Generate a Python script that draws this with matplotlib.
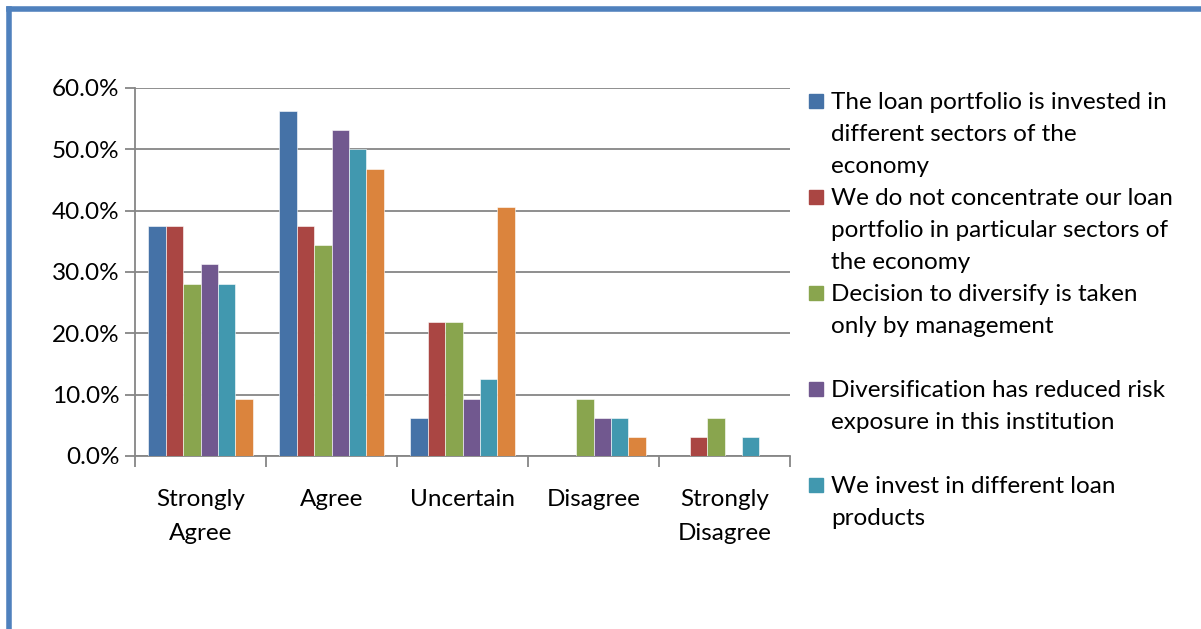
import matplotlib.pyplot as plt
import numpy as np
from matplotlib.lines import Line2D
from matplotlib.patches import Rectangle

# responses out of 32 institutions, as fractions (%)
categories = ["Strongly\nAgree", "Agree", "Uncertain", "Disagree", "Strongly\nDisagree"]
series_names = [
    "The loan portfolio is invested in\ndifferent sectors of the\neconomy",
    "We do not concentrate our loan\nportfolio in particular sectors of\nthe economy",
    "Decision to diversify is taken\nonly by management",
    "Diversification has reduced risk\nexposure in this institution",
    "We invest in different loan\nproducts",
    None,
]
values = [
    [37.5, 56.25, 6.25, 0.0, 0.0],
    [37.5, 37.5, 21.875, 0.0, 3.125],
    [28.125, 34.375, 21.875, 9.375, 6.25],
    [31.25, 53.125, 9.375, 6.25, 0.0],
    [28.125, 50.0, 12.5, 6.25, 3.125],
    [9.375, 46.875, 40.625, 3.125, 0.0],
]
colors = ["#4572A7", "#AA4643", "#89A54E", "#71588F", "#4198AF", "#DB843D"]

plt.rcParams['font.family'] = ['Lato', 'DejaVu Sans']
FS = 17.5
W, H = 1201, 629
fig = plt.figure(figsize=(W / 100, H / 100), dpi=100)

def fx(px):
    return px / W

def fy(py):
    return 1 - py / H

ax = fig.add_axes([fx(135), fy(456), fx(790) - fx(135), fy(88) - fy(456)])

n = len(values)
bw = 0.8 / n
x = np.arange(len(categories))
for i, vals in enumerate(values):
    ax.bar(x - 0.4 + bw * (i + 0.5), vals, width=bw, color=colors[i],
           edgecolor="white", linewidth=0.4, zorder=3)

ax.set_xlim(-0.5, len(categories) - 0.5)
ax.set_ylim(0, 60)
ax.set_yticks(np.arange(0, 61, 10))
ax.set_yticklabels([f"{v:.1f}%" for v in np.arange(0, 61, 10)], fontsize=FS)
ax.yaxis.grid(True, color="#868686", linewidth=1.3, zorder=0)
ax.set_xticks(np.arange(-0.5, len(categories), 1.0))
ax.set_xticklabels([])
ax.set_xticks(x, minor=True)
ax.set_xticklabels(categories, minor=True, fontsize=FS, linespacing=1.75)
ax.tick_params(axis="x", which="minor", length=0, pad=24)
ax.tick_params(axis="x", which="major", length=8, width=1.3, color="#868686")
ax.tick_params(axis="y", length=7, width=1.3, color="#868686", pad=4)
for side in ["top", "right"]:
    ax.spines[side].set_visible(False)
for side in ["left", "bottom"]:
    ax.spines[side].set_color("#868686")
    ax.spines[side].set_linewidth(1.3)

# legend laid out as a column, three lines per entry
for i, name in enumerate(series_names):
    if name is None:
        continue
    top = 101 + 96 * i
    fig.patches.append(Rectangle((fx(809), fy(top + 7)), fx(14), fy(0) - fy(14),
                                 transform=fig.transFigure, color=colors[i]))
    fig.text(fx(831), fy(top - 9), name, fontsize=FS, va="top", ha="left",
             linespacing=1.65)

# outer frame
fig.add_artist(Line2D([fx(8.5), fx(1201)], [fy(8.5), fy(8.5)], color="#4F81BD",
                      linewidth=4, transform=fig.transFigure))
fig.add_artist(Line2D([fx(8.5), fx(8.5)], [fy(8.5), fy(629)], color="#4F81BD",
                      linewidth=4, transform=fig.transFigure))

fig.savefig("out.png", dpi=100)
